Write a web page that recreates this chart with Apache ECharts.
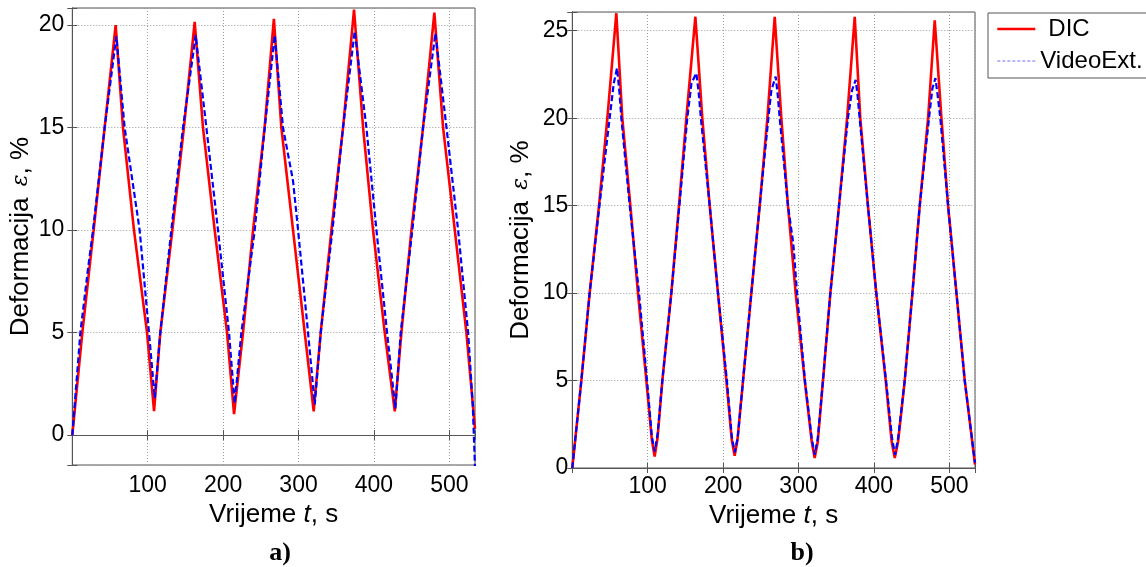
<!DOCTYPE html>
<html>
<head>
<meta charset="utf-8">
<script src="https://cdn.jsdelivr.net/npm/echarts@6/dist/echarts.min.js"></script>
<style>html,body{margin:0;padding:0;background:#fff}#c{width:1146px;height:567px}</style>
</head>
<body>
<div id="c"></div>
<script>
// ---- data (a) ----
const tA_dic = [0,13.3,28.3,42.9,57.5,67.2,81.8,99.1,108.4,116.7,132.7,148,162.3,173.3,188.8,205.2,214.5,226.4,239.7,255,267.3,277.2,292.7,308.2,320.1,329.4,343.6,359,373.6,385.6,398.8,414.3,427.6,436.4,449.7,465.1,480.1,491.7,507.2,522.6,534];
const vA_dic = [0,5,10,15,20.0,15,10,5,1.17,5,10,15,20.15,15,10,5,1.02,5,10,15,20.3,15,10,5,1.16,5,10,15,20.75,15,10,5,1.16,5,10,15,20.6,15,10,5,0.3];
const tA_vid = [0,10.7,20.8,27.5,42.9,58.4,69.4,89.3,101.7,109.3,116.7,131.3,146.8,163.6,177.8,193.2,207.8,215.3,224.2,241.9,255.2,268.4,279.4,292.7,299.4,312.6,321.5,329.4,345,359,374.5,390,403.3,417.4,428.4,435.5,450.9,465.1,481.5,496.2,511.6,524.9,531,534];
const vA_vid = [0,5,8.1,10,15,19.45,15,10,5,1.8,5,10,15,19.5,15,10,5,1.55,5,10,15,19.5,15,12.4,10,5,1.5,5,10,15,19.7,15,10,5,1.3,5,10,15,19.6,15,10,5,1.5,-1.6];
// ---- data (b) ----
const tB_dic = [0,12,23,35.4,46.5,58.4,66.3,77,87.1,98.2,105.5,109.2,113,119.4,131.3,141.5,151.2,163.2,172.4,182.2,193.2,204.3,211.5,215.3,219,226.4,237.4,248.5,258.7,268.4,277.2,286,296.2,308.2,317.5,321.4,325.5,332.4,342.2,353.7,364.4,374.5,381.9,392,403.1,415.6,423.5,427.6,432,440.8,451,460.7,471.8,480.6,489.5,498.3,509.4,520.4,534];
const vB_dic = [0,5,10,15,20,26.0,20,15,10,5,1.6,0.65,1.7,5,10,15,20,25.8,20,15,10,5,1.6,0.7,1.6,5,10,15,20,25.8,20,15,10,5,1.5,0.57,1.5,5,10,15,20,25.8,20,15,10,5,1.5,0.57,1.5,5,10,15,20,25.6,20,15,10,5,0.2];
const tB_vid = [0,12,23,36,49.5,55,59.3,62.5,65,76.1,88.5,99.1,105.5,109.2,113,119.4,131.3,142,152.5,158,164.5,167.5,170.5,182.2,193.2,205,211.5,215.5,219.5,226.4,237.4,248.5,260,264,269.7,272.5,275,286,292.5,293.5,298,308.5,317.5,321.4,325.5,332.4,342.2,353.7,365.5,371,375.8,378.5,381,392,403.1,416,424,428,432,440.8,451,460.7,473,477.5,481.5,484.5,488,498.3,509.4,520.4,534];
const vB_vid = [0,5,10,15,20,22,22.86,21.5,20,15,10,5,1.8,0.95,1.9,5,10,15,20,22,22.57,21.5,20,15,10,5,1.8,0.9,1.8,5,10,15,20,21.6,22.38,21.3,20,15,13.0,12.6,10,5,1.7,0.76,1.7,5,10,15,20,21.6,22.19,21.2,20,15,10,5,1.7,0.76,1.7,5,10,15,20,21.7,22.29,21.3,20,15,10,5,0.3];
// ---- axes / labels ----
const seriesNames = ['DIC','VideoExt.'];
const xLabel = 'Vrijeme';
const xUnit = ', s';
const yLabel = 'Deformacija';
const yUnit = ', %';
const panelLabels = ['a)','b)'];
const yRangeA = [-1.46, 20.83];
const yRangeB = [0, 26.07];
const xRange = [0, 534];

const pairs = (t, v) => t.map((x, i) => [x, v[i]]);

const FONT = 'Liberation Sans';
const frame = '#555';
const grids = [
  {left: 72.3, top: 8, width: 402.7, height: 457, show: true, borderColor: frame, borderWidth: 1},
  {left: 572.3, top: 12, width: 402.7, height: 456, show: true, borderColor: frame, borderWidth: 1}
];

function mkX(gi, gap, margin) {
  return {
    type: 'value', gridIndex: gi, min: xRange[0], max: xRange[1],
    minInterval: 100, maxInterval: 100, splitNumber: 5,
    axisLine: {show: true, lineStyle: {color: frame, width: 1}},
    axisTick: {show: true, inside: true, length: 5, lineStyle: {color: frame}},
    axisLabel: {show: true, margin: margin, color: '#000', fontSize: 23, fontFamily: FONT,
      formatter: v => (v > 0 && Math.abs(v / 100 - Math.round(v / 100)) < 1e-6) ? String(Math.round(v)) : ''},
    splitLine: {show: true, lineStyle: {color: '#9a9a9a', type: [1, 2], width: 1}},
    name: '{a|' + xLabel + ' }{i|t}{a|' + xUnit + '}',
    nameLocation: 'middle', nameGap: gap,
    nameTextStyle: {rich: {
      a: {fontSize: 26, fontFamily: FONT, color: '#000'},
      i: {fontSize: 26, fontFamily: FONT, fontStyle: 'italic', color: '#000'}
    }}
  };
}
function mkXTop(gi) {
  return {type: 'value', gridIndex: gi, position: 'top', min: xRange[0], max: xRange[1],
    minInterval: 100, maxInterval: 100, splitNumber: 5,
    axisLine: {show: true, lineStyle: {color: frame}},
    axisTick: {show: true, inside: true, length: 5, lineStyle: {color: frame}},
    axisLabel: {show: false}, splitLine: {show: false}};
}
function mkY(gi, range, gap, margin) {
  return {
    type: 'value', gridIndex: gi, min: range[0], max: range[1],
    minInterval: 5, maxInterval: 5, splitNumber: 5,
    axisLine: {show: true, lineStyle: {color: frame, width: 1}},
    axisTick: {show: true, inside: true, length: 5, lineStyle: {color: frame}},
    axisLabel: {show: true, margin: margin, color: '#000', fontSize: 23, fontFamily: FONT,
      formatter: v => (Math.abs(v / 5 - Math.round(v / 5)) < 1e-6) ? String(Math.round(v)) : ''},
    splitLine: {show: true, lineStyle: {color: '#9a9a9a', type: [1, 2], width: 1}},
    name: '{a|' + yLabel + ' }{e|ε}{a|' + yUnit + '}',
    nameLocation: 'middle', nameGap: gap, nameRotate: 90,
    nameTextStyle: {rich: {
      a: {fontSize: 26, fontFamily: FONT, color: '#000'},
      e: {fontSize: 22, fontFamily: 'DejaVu Serif', fontStyle: 'italic', color: '#000', padding: [0, 0, 0, 4]}
    }}
  };
}
function mkYRight(gi, range) {
  return {type: 'value', gridIndex: gi, position: 'right', min: range[0], max: range[1],
    minInterval: 5, maxInterval: 5, splitNumber: 5,
    axisLine: {show: true, lineStyle: {color: frame}},
    axisTick: {show: true, inside: true, length: 5, lineStyle: {color: frame}},
    axisLabel: {show: false}, splitLine: {show: false}};
}

function redSeries(xi, yi, data) {
  return {name: seriesNames[0], type: 'line', xAxisIndex: xi, yAxisIndex: yi, data: data,
    symbol: 'none', smooth: false, clip: true, z: 2,
    lineStyle: {color: '#ff0000', width: 2.6}, itemStyle: {color: '#ff0000'}};
}
function blueSeries(xi, yi, data) {
  return {name: seriesNames[1], type: 'line', xAxisIndex: xi, yAxisIndex: yi, data: data,
    symbol: 'none', smooth: false, clip: true, z: 3,
    lineStyle: {color: '#0000ff', width: 2.2, type: [6, 3]}, itemStyle: {color: '#0000ff'}};
}

const chart = echarts.init(document.getElementById('c'), null, {renderer: 'canvas'});
chart.setOption({
  backgroundColor: '#fff',
  animation: false,
  grid: grids,
  xAxis: [mkX(0, 30, 9), mkX(1, 30, 7), mkXTop(0), mkXTop(1)],
  yAxis: [mkY(0, yRangeA, 38, 8), mkY(1, yRangeB, 38, 4), mkYRight(0, yRangeA), mkYRight(1, yRangeB)],
  title: [
    {text: panelLabels[0], left: 275, top: 535, textAlign: 'center',
      textStyle: {fontFamily: 'Liberation Serif', fontWeight: 'bold', fontSize: 26, color: '#000'}},
    {text: panelLabels[1], left: 797, top: 535, textAlign: 'center',
      textStyle: {fontFamily: 'Liberation Serif', fontWeight: 'bold', fontSize: 26, color: '#000'}}
  ],
  legend: {
    left: 988, top: 13, orient: 'vertical',
    padding: [2, 12, 3, 8], itemGap: 4, itemWidth: 38, itemHeight: 14, itemTextGap: 5,
    borderColor: frame, borderWidth: 1, backgroundColor: '#fff',
    itemStyle: {opacity: 0},
    textStyle: {fontSize: 24, fontFamily: FONT, color: '#000', lineHeight: 28,
      rich: {d: {fontSize: 24, fontFamily: FONT, color: '#000', padding: [0, 0, 0, 8]}}},
    formatter: n => n === seriesNames[0] ? '{d|' + n + '}' : n,
    data: [
      {name: seriesNames[0], itemStyle: {opacity: 0}, lineStyle: {color: '#ff0000', width: 2.6, type: 'solid'}},
      {name: seriesNames[1], itemStyle: {opacity: 0}, lineStyle: {color: '#6f6fff', width: 1, type: [3, 2]}}
    ]
  },
  series: [
    redSeries(0, 0, pairs(tA_dic, vA_dic)),
    blueSeries(0, 0, pairs(tA_vid, vA_vid)),
    redSeries(1, 1, pairs(tB_dic, vB_dic)),
    blueSeries(1, 1, pairs(tB_vid, vB_vid))
  ]
});
</script>
</body>
</html>
